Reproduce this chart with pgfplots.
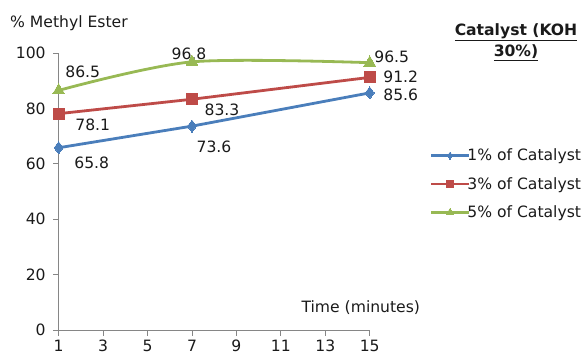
\documentclass[border=0pt]{standalone}
\usepackage{pgfplots}
\pgfplotsset{compat=1.18}
\usepackage{fontspec}
\setmainfont{DejaVu Sans}
\definecolor{ser1}{HTML}{4A7EBB}
\definecolor{ser2}{HTML}{BE4B48}
\definecolor{ser3}{HTML}{98B954}
\definecolor{axgray}{HTML}{868686}
\definecolor{txt}{HTML}{1A1A1A}
\newcommand{\fs}{\fontsize{15.6}{18}\selectfont}
\begin{document}
\begin{tikzpicture}[x=1pt,y=1pt]
\path[use as bounding box] (0,0) rectangle (586,356);
\begin{axis}[
  at={(58.7pt,26pt)}, anchor=origin,
  scale only axis, width=311pt, height=277pt,
  xmin=1, xmax=15, ymin=0, ymax=100,
  xtick={1,3,...,15}, ytick={0,20,...,100},
  axis x line*=bottom, axis y line*=left,
  axis line style={axgray, line width=0.8pt},
  tick style={axgray, line width=0.8pt},
  tick align=outside, major tick length=5.5pt,
  clip=false,
  /pgf/number format/assume math mode=true,
  ticklabel style={font=\fs, text=txt},
  yticklabel style={xshift=-4pt},
  xticklabel style={yshift=-1pt},
  legend style={draw=none, fill=none, at={(1.192,0.527)}, anchor=west,
    font=\fs, text=txt, row sep=11pt, inner sep=0pt},
  legend cell align=left,
  legend image code/.code={
    \draw[mark repeat=2, mark phase=2, every mark/.append style={scale=0.6}]
      plot coordinates {(0pt,0pt) (19pt,0pt) (38pt,0pt)};},
]
\addplot[ser1, line width=2.8pt, mark=diamond*, mark size=6pt, mark options={line width=0pt}]
  coordinates {(1,65.8) (7,73.6) (15,85.6)};
\addlegendentry{\hspace{-5pt}1\% of Catalyst}
\addplot[ser2, line width=2.8pt, mark=square*, mark size=5.5pt, mark options={line width=0pt}]
  coordinates {(1,78.1) (7,83.3) (15,91.2)};
\addlegendentry{\hspace{-5pt}3\% of Catalyst}
\addplot[ser3, line width=2.8pt, smooth, mark=triangle*, mark size=6.8pt, mark options={line width=0pt}]
  coordinates {(1,86.5) (7,96.8) (15,96.5)};
\addlegendentry{\hspace{-5pt}5\% of Catalyst}

\begin{scope}[every node/.style={font=\fs, text=txt, inner sep=0pt}]
\node at (axis cs:1,65.8)  [xshift=33pt, yshift=-15pt] {65.8};
\node at (axis cs:7,73.6)  [xshift=22pt, yshift=-21pt] {73.6};
\node at (axis cs:15,85.6) [xshift=31pt, yshift=-1.5pt] {85.6};
\node at (axis cs:15,91.2) [xshift=31pt, yshift=0.5pt] {91.2};
\node at (axis cs:1,78.1)  [xshift=34pt, yshift=-11pt] {78.1};
\node at (axis cs:7,83.3)  [xshift=30pt, yshift=-11pt] {83.3};
\node at (axis cs:1,86.5)  [xshift=24pt, yshift=19pt]  {86.5};
\node at (axis cs:7,96.8)  [xshift=-3pt, yshift=8pt]   {96.8};
\node at (axis cs:15,96.5) [xshift=22pt, yshift=6pt]   {96.5};
\end{scope}
\node[font=\fs, text=txt, inner sep=0pt] at (axis cs:14.6,8) {Time (minutes)};
\end{axis}
\node[font=\fs, text=txt, inner sep=0pt, anchor=west] at (10,333) {\% Methyl Ester};
\node[font=\fs\bfseries, text=txt, inner sep=0pt, align=center] at (516,314)
  {\underline{Catalyst (KOH}\\[3pt]\underline{30\%)}};
\end{tikzpicture}
\end{document}
